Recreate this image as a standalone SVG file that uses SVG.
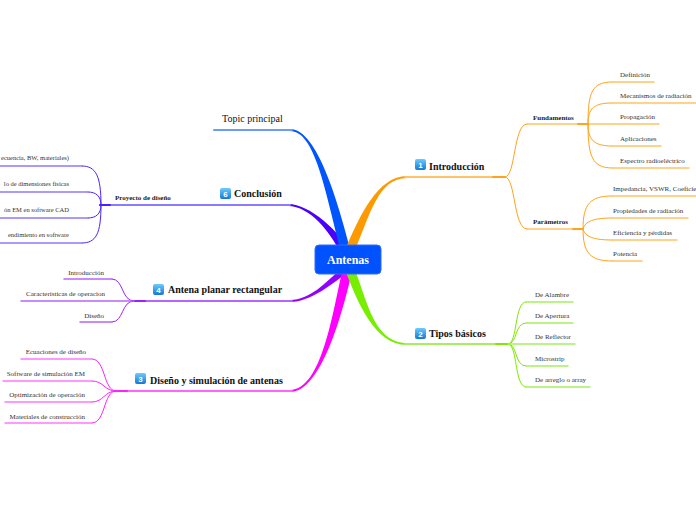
<svg xmlns="http://www.w3.org/2000/svg" width="696" height="520" viewBox="0 0 696 520">
<defs>
<linearGradient id="bg" x1="0" y1="0" x2="0" y2="1">
<stop offset="0" stop-color="#6CCBFF"/>
<stop offset="1" stop-color="#1577D4"/>
</linearGradient>
<style>
text{font-family:"Liberation Serif","Times New Roman",serif}
.tm{font-size:10px;font-weight:bold;fill:#111}
.tp{font-size:10px;fill:#111}
.ts{font-size:7px;fill:#333}
.tc{font-size:6.5px;fill:#333}
.tb{font-size:7px;font-weight:bold;fill:#222}
.bd rect{fill:url(#bg)}
.bd text{font-family:"Liberation Sans",Arial,sans-serif;font-size:8px;font-weight:bold;fill:#fff;text-anchor:middle}
.e{text-anchor:end}
.ln{fill:none;stroke-linecap:round}
.br{stroke:none}
.ml{stroke-width:2}
.sl{stroke-width:1.5}
.sc{stroke-width:1}
</style>
</defs>
<rect width="696" height="520" fill="#fff"/>
<g id="connectors">
<!-- main tapered branches -->
<path class="br" d="M 340,252 C 330,232 310,206 288,206 L 288,204 C 310,204 340,232 350,252 Z" style="fill:#4A00FF"/>
<path class="br" d="M 342,268 C 325,283 310,300 290,300 L 290,302 C 310,302 335,283 352,268 Z" style="fill:#9400FF"/>
<path class="br" d="M 342,272 C 333,310 322,390 290,390 L 290,392 C 322,392 343,310 352,272 Z" style="fill:#FF00FF"/>
<path class="br" d="M 345,270 C 357,300 374,345 407,345 L 407,343 C 374,343 367,300 355,270 Z" style="fill:#77EE00"/>
<path class="br" d="M 341,252 C 325,190 315,131 290,131 L 290,129 C 315,129 335,190 351,252 Z" style="fill:#0055FF"/>
<path class="br" d="M 345,250 C 360,215 378,176 407,176 L 407,178 C 378,178 370,215 355,250 Z" style="fill:#FF9900"/>
<g class="ln">
<!-- main lines -->
<line class="ml" x1="214" y1="130" x2="292" y2="130" stroke="#6B9BFF"/>
<line class="ml" x1="100" y1="205" x2="290" y2="205" stroke="#8A7BFF"/>
<line class="ml" x1="100" y1="205" x2="110" y2="205" stroke="#4A22FF"/>
<line class="ml" x1="405" y1="177" x2="505" y2="177" stroke="#FFC266"/>
<line class="ml" x1="493" y1="177" x2="505" y2="177" stroke="#FFA31A"/>
<line class="ml" x1="405" y1="344" x2="508" y2="344" stroke="#A6F060"/>
<line class="ml" x1="496" y1="344" x2="508" y2="344" stroke="#80E800"/>
<line class="ml" x1="132" y1="301" x2="292" y2="301" stroke="#B566FF"/>
<line class="ml" x1="132" y1="301" x2="145" y2="301" stroke="#9A22FF"/>
<line class="ml" x1="115" y1="391" x2="292" y2="391" stroke="#FF66FF"/>
<line class="ml" x1="115" y1="391" x2="127" y2="391" stroke="#FF22FF"/>
<!-- Introducción subtopics -->
<g stroke="#FFA31A">
<path class="sc" d="M 505,177 C 516,177 513,124 527,124"/>
<path class="sc" d="M 505,177 C 516,177 513,229 527,229"/>
<path class="sc" d="M 588,124 C 588,92 592,82 612,82"/>
<path class="sc" d="M 588,124 C 588,108 594,103 612,103"/>
<path class="sc" d="M 588,124 C 588,140 594,146 612,146"/>
<path class="sc" d="M 588,124 C 588,156 592,168 612,168"/>
<path class="sc" d="M 583,229 C 583,204 590,196 612,196"/>
<path class="sc" d="M 583,229 C 585,221 594,218 612,218"/>
<path class="sc" d="M 583,229 C 585,237 594,240 612,240"/>
<path class="sc" d="M 583,229 C 583,253 590,261 612,261"/>
</g>
<g stroke="#FFC266">
<line class="sl" x1="527" y1="124" x2="588" y2="124"/>
<line class="sl" x1="527" y1="229" x2="583" y2="229"/>
<line class="sl" x1="612" y1="82" x2="654" y2="82"/>
<line class="sl" x1="612" y1="103" x2="696" y2="103"/>
<line class="sl" x1="588" y1="124" x2="659" y2="124"/>
<line class="sl" x1="612" y1="146" x2="661" y2="146"/>
<line class="sl" x1="612" y1="168" x2="689" y2="168"/>
<line class="sl" x1="612" y1="196" x2="696" y2="196"/>
<line class="sl" x1="612" y1="218" x2="688" y2="218"/>
<line class="sl" x1="612" y1="240" x2="677" y2="240"/>
<line class="sl" x1="612" y1="261" x2="642" y2="261"/>
</g>
<line class="ml" x1="578" y1="124" x2="588" y2="124" stroke="#FFA31A"/>
<line class="ml" x1="573" y1="229" x2="583" y2="229" stroke="#FFA31A"/>
<!-- Tipos básicos subtopics -->
<g stroke="#80E800">
<path class="sc" d="M 508,344 C 518,344 514,302 526,302"/>
<path class="sc" d="M 508,344 C 518,344 514,323 526,323"/>
<path class="sc" d="M 508,344 C 518,344 514,366 526,366"/>
<path class="sc" d="M 508,344 C 518,344 514,387 526,387"/>
</g>
<g stroke="#A6F060">
<line class="sl" x1="526" y1="302" x2="573" y2="302"/>
<line class="sl" x1="526" y1="323" x2="573" y2="323"/>
<line class="sl" x1="508" y1="344" x2="575" y2="344"/>
<line class="sl" x1="526" y1="366" x2="568" y2="366"/>
<line class="sl" x1="526" y1="387" x2="590" y2="387"/>
</g>
<!-- Conclusión subtopics -->
<g stroke="#4A22FF">
<path class="sc" d="M 82,166 C 96,166 101,176 101,205"/>
<path class="sc" d="M 88,192 C 96,192 101,196 101,205"/>
<path class="sc" d="M 88,218 C 96,218 101,214 101,205"/>
<path class="sc" d="M 82,243 C 96,243 101,234 101,205"/>
</g>
<g stroke="#8A7BFF">
<line class="sl" x1="0" y1="166" x2="82" y2="166"/>
<line class="sl" x1="0" y1="192" x2="88" y2="192"/>
<line class="sl" x1="0" y1="218" x2="88" y2="218"/>
<line class="sl" x1="0" y1="243" x2="82" y2="243"/>
</g>
<!-- Antena planar subtopics -->
<g stroke="#9A22FF">
<path class="sc" d="M 112,279 C 124,279 121,301 134,301"/>
<path class="sc" d="M 112,322 C 124,322 121,301 134,301"/>
</g>
<g stroke="#B566FF">
<line class="sl" x1="64" y1="279" x2="112" y2="279"/>
<line class="sl" x1="21" y1="301" x2="134" y2="301"/>
<line class="sl" x1="80" y1="322" x2="112" y2="322"/>
</g>
<!-- Diseño y simulación subtopics -->
<g stroke="#FF22FF">
<path class="sc" d="M 92,359 C 106,359 103,391 116,391"/>
<path class="sc" d="M 92,381 C 104,381 104,391 116,391"/>
<path class="sc" d="M 92,402 C 104,402 104,391 116,391"/>
<path class="sc" d="M 92,423 C 106,423 103,391 116,391"/>
</g>
<g stroke="#FF77FF">
<line class="sl" x1="21" y1="359" x2="92" y2="359"/>
<line class="sl" x1="3" y1="381" x2="92" y2="381"/>
<line class="sl" x1="5" y1="402" x2="92" y2="402"/>
<line class="sl" x1="5" y1="423" x2="92" y2="423"/>
</g>
</g>
</g>
<g id="central">
<rect x="315" y="245" width="66" height="29" rx="4" fill="#0052FF" stroke="#2F6DFF" stroke-width="1"/>
<text x="348" y="264" font-size="12" font-weight="bold" fill="#fff" text-anchor="middle">Antenas</text>
</g>
<g id="topic-principal"><text class="tp" x="222" y="122">Topic principal</text></g>
<g id="introduccion">
<g class="bd"><rect x="415" y="159" width="11" height="11" rx="2"/><text x="420.5" y="167.5">1</text></g>
<text class="tm" x="429" y="170">Introducción</text>
</g>
<g id="fundamentos"><text class="tb" x="533" y="120">Fundamentos</text></g>
<g id="definicion"><text class="ts" x="620" y="77">Definición</text></g>
<g id="mecanismos"><text class="ts" x="620" y="98">Mecanismos de radiación</text></g>
<g id="propagacion"><text class="ts" x="620" y="119">Propagación</text></g>
<g id="aplicaciones"><text class="ts" x="620" y="141">Aplicaciones</text></g>
<g id="espectro"><text class="ts" x="620" y="163">Espectro radioeléctrico</text></g>
<g id="parametros"><text class="tb" x="533" y="224">Parámetros</text></g>
<g id="impedancia"><text class="ts" x="613" y="191">Impedancia, VSWR, Coeficie</text></g>
<g id="propiedades"><text class="ts" x="613" y="213">Propiedades de radiación</text></g>
<g id="eficiencia"><text class="ts" x="613" y="235">Eficiencia y pérdidas</text></g>
<g id="potencia"><text class="ts" x="613" y="256">Potencia</text></g>
<g id="tipos">
<g class="bd"><rect x="415" y="328" width="11" height="11" rx="2"/><text x="420.5" y="336.5">2</text></g>
<text class="tm" x="429" y="337">Tipos básicos</text>
</g>
<g id="alambre"><text class="ts" x="535" y="297">De Alambre</text></g>
<g id="apertura"><text class="ts" x="535" y="318">De Apertura</text></g>
<g id="reflector"><text class="ts" x="535" y="339">De Reflector</text></g>
<g id="microstrip"><text class="ts" x="535" y="361">Microstrip</text></g>
<g id="arreglo"><text class="ts" x="535" y="382">De arreglo o array</text></g>
<g id="conclusion">
<g class="bd"><rect x="220" y="188" width="11" height="11" rx="2"/><text x="225.5" y="196.5">6</text></g>
<text class="tm" x="234" y="197">Conclusión</text>
</g>
<g id="proyecto"><text class="tb" x="115" y="200">Proyecto de diseño</text></g>
<g id="c1"><text class="tc e" x="69" y="160">ecuencia, BW, materiales)</text></g>
<g id="c2"><text class="tc e" x="69" y="186">lo de dimensiones físicas</text></g>
<g id="c3"><text class="tc e" x="69" y="212">ón EM en software CAD</text></g>
<g id="c4"><text class="tc e" x="69" y="237">endimiento en software</text></g>
<g id="antena-planar">
<g class="bd"><rect x="153" y="284" width="11" height="11" rx="2"/><text x="158.5" y="292.5">4</text></g>
<text class="tm" x="168" y="293">Antena planar rectangular</text>
</g>
<g id="ap-intro"><text class="ts e" x="104" y="275">Introducción</text></g>
<g id="ap-caract"><text class="ts e" x="105" y="296">Características de operacion</text></g>
<g id="ap-diseno"><text class="ts e" x="104" y="318">Diseño</text></g>
<g id="diseno-sim">
<g class="bd"><rect x="135" y="373" width="11" height="11" rx="2"/><text x="140.5" y="381.5">3</text></g>
<text class="tm" x="150" y="384">Diseño y simulación de antenas</text>
</g>
<g id="ecuaciones"><text class="ts e" x="86" y="354">Ecuaciones de diseño</text></g>
<g id="software"><text class="ts e" x="85" y="376">Software de simulación EM</text></g>
<g id="optimizacion"><text class="ts e" x="85" y="397">Optimización de operación</text></g>
<g id="materiales"><text class="ts e" x="85" y="419">Materiales de construcción</text></g>
</svg>
